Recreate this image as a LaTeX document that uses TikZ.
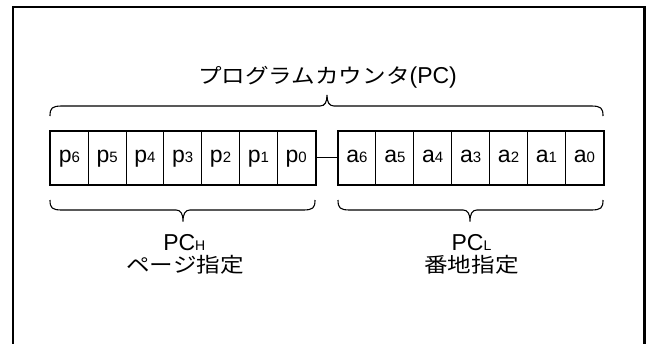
\documentclass[tikz,border=0pt]{standalone}
\usepackage{fontspec}
\setmainfont{Liberation Sans}
\newfontfamily\jpfam[FakeStretch=1.15]{Noto Sans CJK JP}
\newcommand\jpt{\jpfam\fontsize{20.5}{24}\selectfont}
\newcommand\smd[1]{{\fontsize{15}{15}\selectfont #1}}
\begin{document}
\begin{tikzpicture}[x=1pt,y=-1pt,
  cell/.style={draw, line width=1pt, minimum width=37.8pt, minimum height=53pt, inner sep=0pt,
    text height=13.3pt, text depth=3.7pt, font=\fontsize{23}{23}\selectfont},
  outerbox/.style={line width=2pt},
  bracestyle/.style={line width=1.1pt},
  lbl/.style={font=\fontsize{23}{27}\selectfont, inner sep=0pt, anchor=base}]
\useasboundingbox (0,0) rectangle (647,343);
\clip (0,0) rectangle (647,343);
% frame
\draw[line width=2.5pt] (13,360) -- (13,7) -- (644.5,7) -- (644.5,360);
% cells
\foreach \i/\n in {0/6,1/5,2/4,3/3,4/2,5/1,6/0}{
  \node[cell] (p\n) at ({50.5+37.79*(\i+0.5)},157.5) {p\smd{\n}};
  \node[cell] (a\n) at ({338+37.9*(\i+0.5)},157.5) {a\smd{\n}};
}
\draw[outerbox] (p6.north west) rectangle (p0.south east);
\draw[outerbox] (a6.north west) rectangle (a0.south east);
\draw[line width=1pt] (p0.east) -- (a6.west);
% top brace
\draw[bracestyle] (50,116) .. controls (50,108) and (52,106) .. (62,106) -- (320,106)
  .. controls (325,106) and (327,102) .. (327,95)
  .. controls (327,102) and (329,106) .. (334,106) -- (591,106)
  .. controls (601,106) and (603,108) .. (603,116);
% lower left brace
\draw[bracestyle] (50,200) .. controls (50,208) and (52,210) .. (62,210) -- (176,210)
  .. controls (181,210) and (183,214) .. (183,221.5)
  .. controls (183,214) and (185,210) .. (190,210) -- (303,210)
  .. controls (313,210) and (315,208) .. (315,200);
% lower right brace
\draw[bracestyle] (338,200) .. controls (338,208) and (340,210) .. (350,210) -- (463,210)
  .. controls (468,210) and (470,214) .. (470,221.5)
  .. controls (470,214) and (472,210) .. (477,210) -- (591,210)
  .. controls (601,210) and (603,208) .. (603,200);
% labels
\node[lbl] (title) at (327.5,83.5) {{\jpt プログラムカウンタ}(PC)};
\node[lbl] (pch) at (184.3,250) {PC{\fontsize{14}{14}\selectfont H}};
\node[lbl] (pchj) at (185,272) {\jpt ページ指定};
\node[lbl] (pcl) at (471.5,250) {PC{\fontsize{14}{14}\selectfont L}};
\node[lbl] (pclj) at (471.5,272) {\jpt 番地指定};
\end{tikzpicture}
\end{document}
